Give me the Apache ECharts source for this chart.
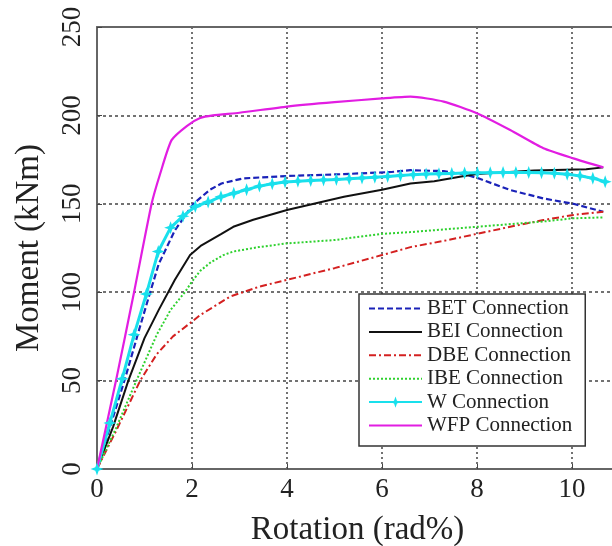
<!DOCTYPE html>
<html>
<head>
<meta charset="utf-8">
<script src="https://cdn.jsdelivr.net/npm/echarts@6/dist/echarts.min.js"></script>
<style>
  html, body { margin: 0; padding: 0; background: #fff; overflow: hidden; }
  #chart { width: 612px; height: 546px; }
</style>
</head>
<body>
<div id="chart"></div>
<script>
// 读图得到的数据 (rotation rad%, moment kNm)
var betX = [0, 0.3, 0.6, 0.9, 1.12, 1.3, 1.64, 2.03, 2.38, 2.62, 3.08, 4.0, 5.2, 6.2, 6.6, 7.3, 7.8, 8.03, 8.7, 9.4, 10.03, 10.66];
var betY = [0, 26, 52, 80, 100, 116, 135, 150, 158, 161.5, 164.4, 165.7, 166.8, 168, 169, 168.5, 166.3, 164.4, 157.8, 153, 150, 145.5];

var beiX = [0, 0.34, 0.66, 1.0, 1.3, 1.64, 1.96, 2.2, 2.62, 2.87, 3.29, 4.0, 5.2, 6.0, 6.6, 7.1, 7.64, 8.0, 9.2, 10.3, 10.66];
var beiY = [0, 24, 50, 74, 90, 107, 121, 126.5, 133, 137, 141, 146.5, 154, 158, 161.5, 162.8, 165.3, 166.8, 168.8, 169.5, 170.6];

var dbeX = [0, 0.41, 0.91, 1.26, 1.6, 1.96, 2.17, 2.8, 3.4, 4.0, 5.0, 6.0, 6.6, 7.3, 8.0, 8.7, 9.4, 10.03, 10.66];
var dbeY = [0, 22, 50, 65, 75, 82.5, 87, 97.5, 103, 107, 113.6, 121, 125.5, 129, 133, 137, 140.8, 143.7, 145.5];

var ibeX = [0, 0.4, 0.83, 1.26, 1.55, 1.85, 2.0, 2.17, 2.4, 2.66, 2.87, 3.4, 4.0, 5.0, 6.0, 6.6, 8.0, 9.4, 10.03, 10.66];
var ibeY = [0, 23, 50, 76, 90, 100, 106, 112, 117, 121, 123, 125.5, 127.6, 129.5, 133, 134, 137, 140, 141.8, 142.3];

var wX = [0, 0.27, 0.53, 0.78, 1.04, 1.29, 1.55, 1.81, 2.07, 2.34, 2.61, 2.88, 3.15, 3.42, 3.69, 3.96, 4.23, 4.5, 4.77, 5.04, 5.31, 5.58, 5.85, 6.12, 6.39, 6.66, 6.93, 7.2, 7.47, 7.74, 8.01, 8.28, 8.55, 8.82, 9.09, 9.36, 9.63, 9.9, 10.17, 10.44, 10.7];
var wY = [0, 26, 51, 76, 99, 123, 136.5, 143, 148.5, 151, 154, 156, 158, 160, 161.3, 162.3, 162.8, 163.2, 163.5, 163.8, 164.2, 164.6, 165, 165.5, 166, 166.5, 166.8, 167, 167.2, 167.4, 167.5, 167.6, 167.7, 167.7, 167.7, 167.6, 167.3, 166.7, 165.8, 164.5, 162.5];

var wfpX = [0, 0.4, 0.78, 1.15, 1.33, 1.57, 1.89, 2.17, 2.44, 3.0, 4.0, 5.0, 6.0, 6.6, 7.3, 8.0, 8.7, 9.4, 10.03, 10.66];
var wfpY = [0, 50, 100, 150, 167, 186, 194, 198.5, 200, 201.5, 205, 207.5, 209.6, 210.6, 207.8, 201.2, 191.7, 181.4, 175.7, 170.6];

var xTicks = [0, 2, 4, 6, 8, 10];
var yTicks = [0, 50, 100, 150, 200, 250];

function pairs(xs, ys) {
  return xs.map(function (x, i) { return [x, ys[i]]; });
}

var serif = 'Liberation Serif';
var star = 'path://M0,-10 L2.6,-2.6 L10,0 L2.6,2.6 L0,10 L-2.6,2.6 L-10,0 L-2.6,-2.6 Z';
var noSym = { opacity: 0 };

var myChart = echarts.init(document.getElementById('chart'));
myChart.setOption({
  animation: false,
  backgroundColor: '#fff',
  grid: {
    left: 97, right: -6, top: 27, bottom: 77,
    outerBoundsMode: 'none', containLabel: false,
    show: false
  },
  legend: {
    orient: 'vertical',
    left: 359, top: 294,
    itemWidth: 53, itemHeight: 14, itemGap: 2.4,
    padding: [4, 13, 10, 9],
    backgroundColor: '#fff',
    borderColor: '#333', borderWidth: 1.5,
    textStyle: { fontFamily: serif, fontSize: 21, color: '#222' },
    data: [
      { name: 'BET Connection', itemStyle: noSym },
      { name: 'BEI Connection', itemStyle: noSym },
      { name: 'DBE Connection', itemStyle: noSym },
      { name: 'IBE Connection', itemStyle: noSym },
      { name: 'W Connection' },
      { name: 'WFP Connection', itemStyle: noSym }
    ]
  },
  xAxis: [{
    type: 'value', min: 0, max: 10.97, interval: 2,
    name: 'Rotation (rad%)', nameLocation: 'middle', nameGap: 45,
    nameTextStyle: { fontFamily: serif, fontSize: 33, color: '#222' },
    axisLine: { lineStyle: { color: '#666', width: 2 } },
    axisTick: { inside: true, length: 5, lineStyle: { color: '#444' } },
    axisLabel: {
      fontFamily: serif, fontSize: 27, color: '#222', margin: 7,
      showMaxLabel: false,
      formatter: function (v) { return xTicks.indexOf(v) >= 0 ? String(v) : ''; }
    },
    splitLine: { lineStyle: { color: '#444', width: 1.5, type: [2, 3] } }
  }, {
    // 顶部边框
    type: 'value', position: 'top', min: 0, max: 10.97, interval: 2,
    axisLine: { show: true, lineStyle: { color: '#666', width: 2 } },
    axisTick: { show: false }, axisLabel: { show: false }, splitLine: { show: false }
  }],
  yAxis: {
    type: 'value', min: 0, max: 250, interval: 50,
    name: 'Moment (kNm)', nameLocation: 'middle', nameGap: 51, nameRotate: 90,
    nameTextStyle: { fontFamily: serif, fontSize: 33, color: '#222' },
    axisLine: { show: true, lineStyle: { color: '#666', width: 2 } },
    axisTick: { show: true, inside: true, length: 5, lineStyle: { color: '#444' } },
    axisLabel: {
      fontFamily: serif, fontSize: 27, color: '#222', margin: 11, rotate: 90,
      formatter: function (v) { return yTicks.indexOf(v) >= 0 ? String(v) : ''; }
    },
    splitLine: { lineStyle: { color: '#444', width: 1.5, type: [3, 3] } }
  },
  series: [
    {
      name: 'BET Connection', type: 'line', data: pairs(betX, betY),
      symbol: 'none',
      lineStyle: { color: '#1a22b8', width: 2.2, type: [6, 3] }, itemStyle: { color: '#1a22b8' }
    },
    {
      name: 'BEI Connection', type: 'line', data: pairs(beiX, beiY),
      symbol: 'none',
      lineStyle: { color: '#111', width: 2 }, itemStyle: { color: '#111' }
    },
    {
      name: 'DBE Connection', type: 'line', data: pairs(dbeX, dbeY),
      symbol: 'none',
      lineStyle: { color: '#d42020', width: 2, type: [7, 3, 2, 3] }, itemStyle: { color: '#d42020' }
    },
    {
      name: 'IBE Connection', type: 'line', data: pairs(ibeX, ibeY),
      symbol: 'none',
      lineStyle: { color: '#2ed12e', width: 2, type: [2, 2] }, itemStyle: { color: '#2ed12e' }
    },
    {
      name: 'W Connection', type: 'line', data: pairs(wX, wY),
      symbol: star, symbolSize: 13,
      lineStyle: { color: '#19e0ec', width: 3 }, itemStyle: { color: '#19e0ec' }
    },
    {
      name: 'WFP Connection', type: 'line', data: pairs(wfpX, wfpY),
      symbol: 'none', smooth: 0.2,
      lineStyle: { color: '#e21de2', width: 2.2 }, itemStyle: { color: '#e21de2' }
    }
  ]
});
</script>
</body>
</html>
